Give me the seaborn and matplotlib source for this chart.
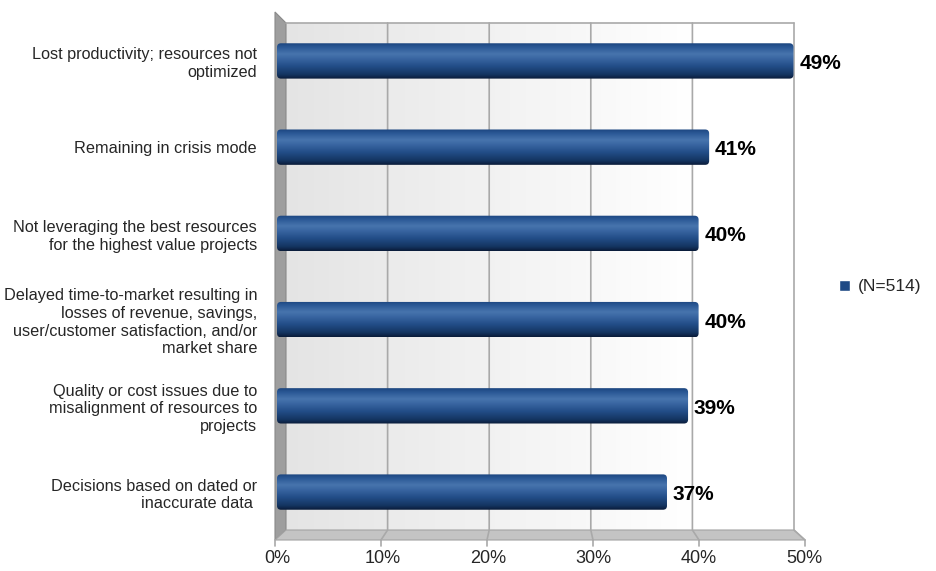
import numpy as np
import pandas as pd
import matplotlib
matplotlib.use("Agg")
import matplotlib.pyplot as plt
from matplotlib.patches import Polygon, Patch, FancyBboxPatch
from matplotlib.lines import Line2D
from matplotlib.colors import LinearSegmentedColormap
import seaborn as sns

# ---- data -------------------------------------------------------------
categories = [
    "Lost productivity; resources not\noptimized",
    "Remaining in crisis mode",
    "Not leveraging the best resources\nfor the highest value projects",
    "Delayed time-to-market resulting in\nlosses of revenue, savings,\nuser/customer satisfaction, and/or\nmarket share",
    "Quality or cost issues due to\nmisalignment of resources to\nprojects",
    "Decisions based on dated or\ninaccurate data ",
]
values = [49, 41, 40, 40, 39, 37]
tick_values = [0, 10, 20, 30, 40, 50]
tick_labels = ["0%", "10%", "20%", "30%", "40%", "50%"]
series_label = "(N=514)"

# ---- styling ----------------------------------------------------------
W, H = 937, 571
sns.set_theme(style="white")
plt.rcParams["font.family"] = ["Liberation Sans", "DejaVu Sans"]

BAR_COLOR = "#1f4a85"
TEXT_COLOR = "#262626"
GRID_COLOR = "#a9a9a9"

fig = plt.figure(figsize=(W / 100, H / 100), dpi=100)


def fx(px):
    return px / W


def fy(py):
    return 1 - py / H


def pts(seq):
    return [(fx(x), fy(y)) for x, y in seq]


# pseudo-3D box (pixel geometry of the chart frame)
WALL_L, WALL_R, WALL_T, WALL_B = 286, 794, 23, 530
FRONT_L, FRONT_R, FRONT_B = 275, 805, 540
SIDE_TOP = 12

# back wall with a soft horizontal gradient
bg = fig.add_axes([fx(WALL_L), fy(WALL_B), fx(WALL_R) - fx(WALL_L),
                   fy(WALL_T) - fy(WALL_B)], zorder=0)
ramp = np.clip(np.linspace(0, 1, 256) / 0.8, 0, 1)
shade = 0.895 + 0.105 * ramp
bg.imshow(np.dstack([shade, shade, shade]), aspect="auto",
          extent=[0, 1, 0, 1])
bg.set_axis_off()

# left side wall
fig.add_artist(Polygon(pts([(FRONT_L, SIDE_TOP), (WALL_L, WALL_T),
                            (WALL_L, WALL_B), (FRONT_L, FRONT_B)]),
                       closed=True, transform=fig.transFigure,
                       facecolor="#9e9e9e", edgecolor="#8a8a8a", lw=0.8,
                       zorder=1))
# floor
fig.add_artist(Polygon(pts([(WALL_L, WALL_B), (WALL_R, WALL_B),
                            (FRONT_R, FRONT_B), (FRONT_L, FRONT_B)]),
                       closed=True, transform=fig.transFigure,
                       facecolor="#c4c4c4", edgecolor="#a3a3a3", lw=0.8,
                       zorder=1))
# top border of the back wall
fig.add_artist(Line2D([fx(WALL_L), fx(WALL_R)], [fy(WALL_T), fy(WALL_T)],
                      transform=fig.transFigure, color=GRID_COLOR, lw=1.2,
                      zorder=1.5))
# gridlines on the back wall, continuing across the floor
for k in range(0, 6):
    xb = WALL_L + (WALL_R - WALL_L) * k / 5
    xf = FRONT_L + (FRONT_R - FRONT_L) * k / 5
    if k > 0:
        fig.add_artist(Line2D([fx(xb), fx(xb), fx(xf)],
                              [fy(WALL_T), fy(WALL_B), fy(FRONT_B)],
                              transform=fig.transFigure, color=GRID_COLOR,
                              lw=1.2, zorder=1.5))
    fig.add_artist(Line2D([fx(xf), fx(xf)], [fy(FRONT_B), fy(FRONT_B + 6)],
                          transform=fig.transFigure, color=GRID_COLOR,
                          lw=1.2, zorder=1.5))

# ---- bars ---------------------------------------------------------------
ax = fig.add_axes([fx(277), fy(WALL_B), fx(804) - fx(277),
                   fy(WALL_T) - fy(WALL_B)], zorder=3)
ax.set_facecolor("none")

df = pd.DataFrame({"category": categories, "value": values})
sns.barplot(data=df, x="value", y="category", orient="h", width=0.41,
            color=BAR_COLOR, saturation=1, ax=ax)

ax.set_xlim(0, 50)
ax.set_ylim(5.44, -0.44)

# cylinder-like shading on every bar, with softly rounded ends
cyl = LinearSegmentedColormap.from_list(
    "cyl",
    [(0.0, "#1c4680"), (0.12, "#2c5a97"), (0.30, "#4874ad"),
     (0.42, "#3a67a3"), (0.65, "#224d87"), (0.88, "#143561"),
     (1.0, "#0a1c3a")])
shade_img = cyl(np.linspace(0, 1, 80))[:, None, :]
ax_w_px = 804 - 277
ax_h_px = WALL_B - WALL_T
px_x = 50 / ax_w_px            # data units per pixel along x
px_y = 5.88 / ax_h_px          # data units per pixel along y
radius_px = 4
for bar in list(ax.patches):
    x0, y0 = bar.get_x(), bar.get_y()
    w, h = bar.get_width(), bar.get_height()
    bar.set_facecolor("none")
    bar.set_edgecolor("none")
    rounded = FancyBboxPatch(
        (x0, y0), w, h,
        boxstyle=f"round,pad=0,rounding_size={radius_px * px_x}",
        mutation_aspect=px_y / px_x,
        transform=ax.transData, facecolor="none", edgecolor="none")
    im = ax.imshow(shade_img, extent=[x0, x0 + w, y0 + h, y0],
                   aspect="auto", zorder=bar.get_zorder() + 0.1,
                   interpolation="bilinear")
    im.set_clip_path(rounded)

for i, v in enumerate(values):
    ax.text(v + 0.55, i + 0.03, f"{v}%", fontsize=15, fontweight="bold",
            ha="left", va="center", color="black", zorder=5)

ax.set_xlim(0, 50)
ax.set_ylim(5.44, -0.44)
ax.set_xticks(tick_values)
ax.set_xticklabels(tick_labels)
ax.set_xlabel("")
ax.set_ylabel("")
ax.tick_params(axis="x", length=0, pad=14.5, labelsize=13, labelcolor=TEXT_COLOR)
ax.tick_params(axis="y", length=0, pad=14.4, labelsize=11.7, labelcolor=TEXT_COLOR)
for lab in ax.get_yticklabels():
    lab.set_linespacing(1.22)
for s in ax.spines.values():
    s.set_visible(False)
ax.grid(False)

fig.legend(handles=[Patch(facecolor=BAR_COLOR, label=series_label)],
           loc="center left", bbox_to_anchor=(fx(839), fy(287)),
           frameon=False, fontsize=12.5, handlelength=0.65,
           handleheight=0.65, handletextpad=0.45, borderpad=0,
           borderaxespad=0, labelcolor=TEXT_COLOR)

fig.savefig("out.png", dpi=100)
